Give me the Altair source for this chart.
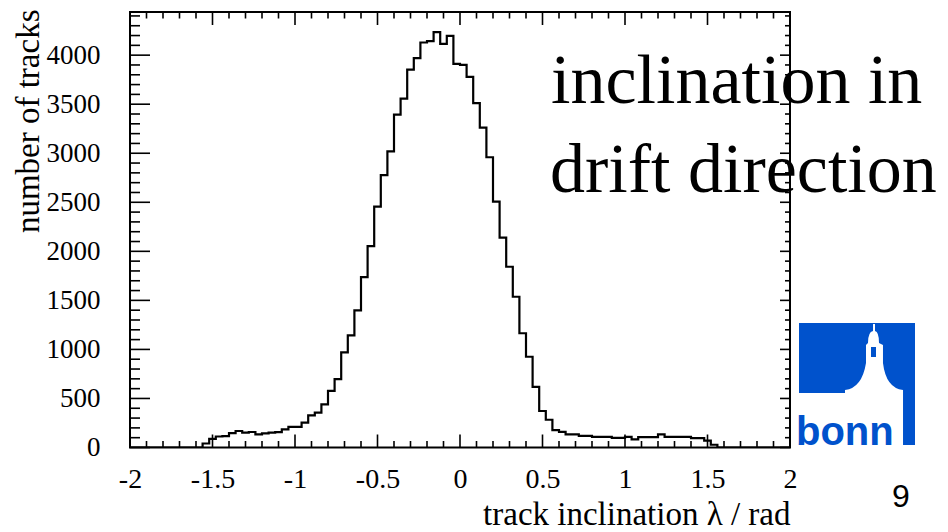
import altair as alt
import pandas as pd

# ---------------- data ----------------
counts = [0, 0, 0, 0, 0, 0, 0, 0, 0, 0, 0,
          41, 88, 112, 115, 146, 168, 152, 158, 133, 145,
          152, 156, 185, 210, 210, 253, 328, 355, 440, 577,
          697, 969, 1143, 1398, 1738, 2054, 2455, 2776, 3020, 3394,
          3557, 3853, 3969, 4129, 4143, 4235, 4115, 4197, 3911, 3900,
          3779, 3510, 3261, 2959, 2506, 2139, 1843, 1537, 1165, 925,
          618, 372, 283, 177, 159, 133, 133, 119, 119, 108,
          108, 108, 98, 98, 108, 82, 105, 105, 105, 133,
          108, 108, 108, 108, 95, 95, 70, 28,
          0, 0, 0, 0, 0, 0, 0, 0, 0, 0, 0]
bin_low = -2.0
bin_width = 0.04

x_major = [-2, -1.5, -1, -0.5, 0, 0.5, 1, 1.5, 2]
x_minor = [-1.9, -1.8, -1.7, -1.6, -1.4, -1.3, -1.2, -1.1, -0.9, -0.8, -0.7, -0.6,
           -0.4, -0.3, -0.2, -0.1, 0.1, 0.2, 0.3, 0.4, 0.6, 0.7, 0.8, 0.9,
           1.1, 1.2, 1.3, 1.4, 1.6, 1.7, 1.8, 1.9]
y_major = [0, 500, 1000, 1500, 2000, 2500, 3000, 3500, 4000]
y_minor = [v for v in range(100, 4500, 100) if v % 500 != 0]

x_title = "track inclination λ / rad"
y_title = "number of tracks"
big_text = ["inclination in", "drift direction"]
logo_word = ["bonn"]
page_no = ["9"]

# ---------------- layout ----------------
W, H = 660, 435.5
SERIF = "Liberation Serif"
SANS = "Liberation Sans"
BLUE = "#0052cc"

edges = [round(bin_low + bin_width * i, 4) for i in range(len(counts) + 1)]
hist = pd.DataFrame({"x": edges, "n": counts + [counts[-1]]})

xs = alt.Scale(domain=[-2, 2], nice=False, zero=False)
ys = alt.Scale(domain=[0, 4440], nice=False, zero=False)

line = alt.Chart(hist).mark_line(
    interpolate="step-after", color="black", strokeWidth=2.2, clip=True
).encode(
    x=alt.X("x:Q", scale=xs, axis=alt.Axis(
        values=x_major, labelExpr="'' + datum.value", title=x_title,
        domain=False, ticks=False, grid=False, labelFlush=False, labelOverlap=False,
        labelFont=SERIF, labelFontSize=28, labelColor="black",
        labelBaseline="alphabetic", labelPadding=40,
        titleFont=SERIF, titleFontSize=33, titleFontWeight="normal", titleColor="black",
        titleAnchor="end", titleAlign="right", titleBaseline="alphabetic",
        titleX=W, titleY=77)),
    y=alt.Y("n:Q", scale=ys, axis=alt.Axis(
        values=y_major, labelExpr="'' + datum.value", title=y_title,
        domain=False, ticks=False, grid=False, labelFlush=False, labelOverlap=False,
        labelFont=SERIF, labelFontSize=27, labelColor="black", labelPadding=30,
        titleFont=SERIF, titleFontSize=33, titleFontWeight="normal", titleColor="black",
        titleAngle=-90, titleAlign="right", titleBaseline="alphabetic",
        titleX=-92, titleY=-3)),
)


def xticks(vals, bottom_len, top_len):
    d = pd.DataFrame({"v": vals})
    b = alt.Chart(d).mark_rule(color="black", strokeWidth=1.6).encode(
        x=alt.X("v:Q", scale=xs), y=alt.value(H), y2=alt.value(H - bottom_len))
    t = alt.Chart(d).mark_rule(color="black", strokeWidth=1.6).encode(
        x=alt.X("v:Q", scale=xs), y=alt.value(0), y2=alt.value(top_len))
    return [b, t]


def yticks(vals, left_len, right_len):
    d = pd.DataFrame({"v": vals})
    l = alt.Chart(d).mark_rule(color="black", strokeWidth=1.6).encode(
        y=alt.Y("v:Q", scale=ys), x=alt.value(0), x2=alt.value(left_len))
    r = alt.Chart(d).mark_rule(color="black", strokeWidth=1.6).encode(
        y=alt.Y("v:Q", scale=ys), x=alt.value(W), x2=alt.value(W - right_len))
    return [l, r]


ticks = (xticks(x_major, 13, 13) + xticks(x_minor, 6.5, 6.5)
         + yticks(y_major, 20, 10) + yticks(y_minor, 10, 5))

# big overlay texts
t1 = alt.Chart(pd.DataFrame({"t": [big_text[0]]})).mark_text(
    font=SERIF, fontSize=70, align="left", baseline="alphabetic", color="black"
).encode(x=alt.value(421), y=alt.value(91), text="t:N")
t2 = alt.Chart(pd.DataFrame({"t": [big_text[1]]})).mark_text(
    font=SERIF, fontSize=70, align="left", baseline="alphabetic", color="black"
).encode(x=alt.value(420), y=alt.value(180), text="t:N")

# logo (x offsets relative to plot origin at (130, 12))
one = pd.DataFrame({"k": [0]})
logo_bg = alt.Chart(one).mark_rect(color=BLUE).encode(
    x=alt.value(799 - 130), x2=alt.value(915 - 130),
    y=alt.value(323 - 12), y2=alt.value(445 - 12))
bpath = ("M -0.967 1.017 L -0.967 0.15 L -0.2 0.15 L -0.2 0.1 "
         "Q 0.083 0.067 0.15 -0.35 L 0.15 -0.65 L 0.183 -0.683 "
         "Q 0.183 -0.867 0.267 -0.883 L 0.267 -1.0 L 0.3 -1.0 L 0.3 -0.883 "
         "Q 0.367 -0.867 0.367 -0.683 L 0.433 -0.65 L 0.433 -0.35 "
         "Q 0.483 0.067 0.767 0.1 L 0.767 1.017 Z")
logo_bld = alt.Chart(one).mark_point(
    shape=bpath, filled=True, fill="white", fillOpacity=1, opacity=1, strokeWidth=0, size=14400
).encode(x=alt.value(857 - 130), y=alt.value(384 - 12))
logo_win = alt.Chart(one).mark_rect(color=BLUE).encode(
    x=alt.value(871 - 130), x2=alt.value(876 - 130),
    y=alt.value(347 - 12), y2=alt.value(357 - 12))
logo_txt = alt.Chart(pd.DataFrame({"t": logo_word})).mark_text(
    font=SANS, fontSize=40, fontWeight="bold", align="left", baseline="alphabetic", color=BLUE
).encode(x=alt.value(796 - 130), y=alt.value(445 - 12), text="t:N")
page = alt.Chart(pd.DataFrame({"t": page_no})).mark_text(
    font=SANS, fontSize=32, align="center", baseline="alphabetic", color="black"
).encode(x=alt.value(901 - 130), y=alt.value(507 - 12), text="t:N")

chart = alt.layer(
    line, *ticks, t1, t2, logo_bg, logo_bld, logo_win, logo_txt, page
).properties(
    width=W, height=H,
    autosize=alt.AutoSizeParams(type="none"),
    padding={"left": 130, "top": 12, "right": 158, "bottom": 85},
    background="white",
).configure_view(stroke="black", strokeWidth=2)

chart.save("out.html", embed_options={"renderer": "svg", "actions": False})
